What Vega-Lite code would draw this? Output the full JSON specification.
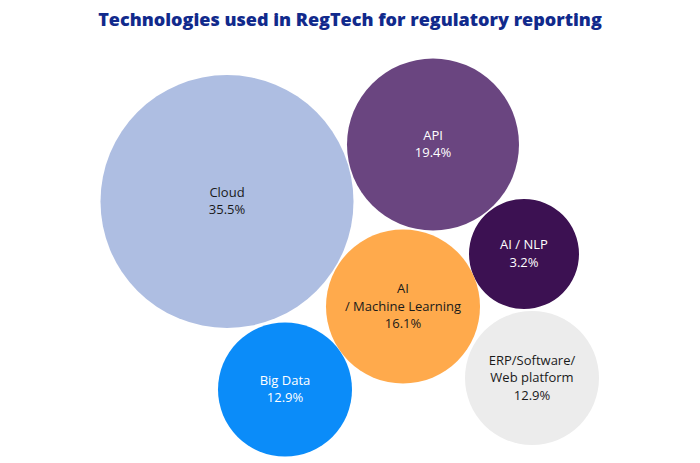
{
  "$schema": "https://vega.github.io/schema/vega-lite/v6.json",
  "width": 700,
  "height": 427,
  "padding": {"left": 0, "right": 0, "top": 12, "bottom": 0},
  "autosize": {"type": "pad"},
  "background": "white",
  "config": {"view": {"stroke": null}},
  "title": {
    "text": "Technologies used in RegTech for regulatory reporting",
    "anchor": "middle",
    "frame": "group",
    "font": "Open Sans",
    "fontSize": 18,
    "fontWeight": 800,
    "color": "#112a8c",
    "offset": 6
  },
  "data": {
    "values": [
      {"name": "Cloud", "label": "Cloud\n35.5%", "value": 35.5, "x": 227, "y": 201.5, "textColor": "dark"},
      {"name": "API", "label": "API\n19.4%", "value": 19.4, "x": 433, "y": 144.5, "textColor": "light"},
      {"name": "AI / NLP", "label": "AI / NLP\n3.2%", "value": 3.2, "x": 524, "y": 254, "textColor": "light"},
      {"name": "AI / Machine Learning", "label": "AI\n/ Machine Learning\n16.1%", "value": 16.1, "x": 403, "y": 306.5, "textColor": "dark"},
      {"name": "Big Data", "label": "Big Data\n12.9%", "value": 12.9, "x": 285, "y": 389.5, "textColor": "light"},
      {"name": "ERP/Software/Web platform", "label": "ERP/Software/\nWeb platform\n12.9%", "value": 12.9, "x": 532, "y": 378, "textColor": "dark"}
    ]
  },
  "encoding": {
    "x": {"field": "x", "type": "quantitative", "scale": {"domain": [0, 700], "nice": false, "zero": false}, "axis": null},
    "y": {"field": "y", "type": "quantitative", "scale": {"domain": [36, 463], "nice": false, "zero": false, "reverse": true}, "axis": null}
  },
  "layer": [
    {
      "mark": {"type": "circle", "opacity": 1},
      "encoding": {
        "size": {
          "field": "value", "type": "quantitative", "legend": null,
          "scale": {"type": "linear", "zero": false, "domain": [3.2, 12.9, 16.1, 19.4, 35.5], "range": [12100, 17956, 23716, 29584, 64009]}
        },
        "color": {
          "field": "name", "type": "nominal", "legend": null,
          "scale": {
            "domain": ["Cloud", "API", "AI / NLP", "AI / Machine Learning", "Big Data", "ERP/Software/Web platform"],
            "range": ["#aebee2", "#6a4580", "#3c1152", "#ffaa4c", "#0b8cf9", "#ececec"]
          }
        }
      }
    },
    {
      "transform": [{"filter": "length(split(datum.label, '\\n')) == 2"}],
      "mark": {"type": "text", "lineBreak": "\n", "font": "Open Sans", "fontSize": 13, "lineHeight": 17.5, "align": "center", "baseline": "middle", "dy": -8.75},
      "encoding": {
        "text": {"field": "label", "type": "nominal"},
        "color": {"condition": {"test": "datum.textColor === 'light'", "value": "#ffffff"}, "value": "#1a1a1a"}
      }
    },
    {
      "transform": [{"filter": "length(split(datum.label, '\\n')) == 3"}],
      "mark": {"type": "text", "lineBreak": "\n", "font": "Open Sans", "fontSize": 13, "lineHeight": 17.5, "align": "center", "baseline": "middle", "dy": -17.5},
      "encoding": {
        "text": {"field": "label", "type": "nominal"},
        "color": {"condition": {"test": "datum.textColor === 'light'", "value": "#ffffff"}, "value": "#1a1a1a"}
      }
    }
  ]
}
